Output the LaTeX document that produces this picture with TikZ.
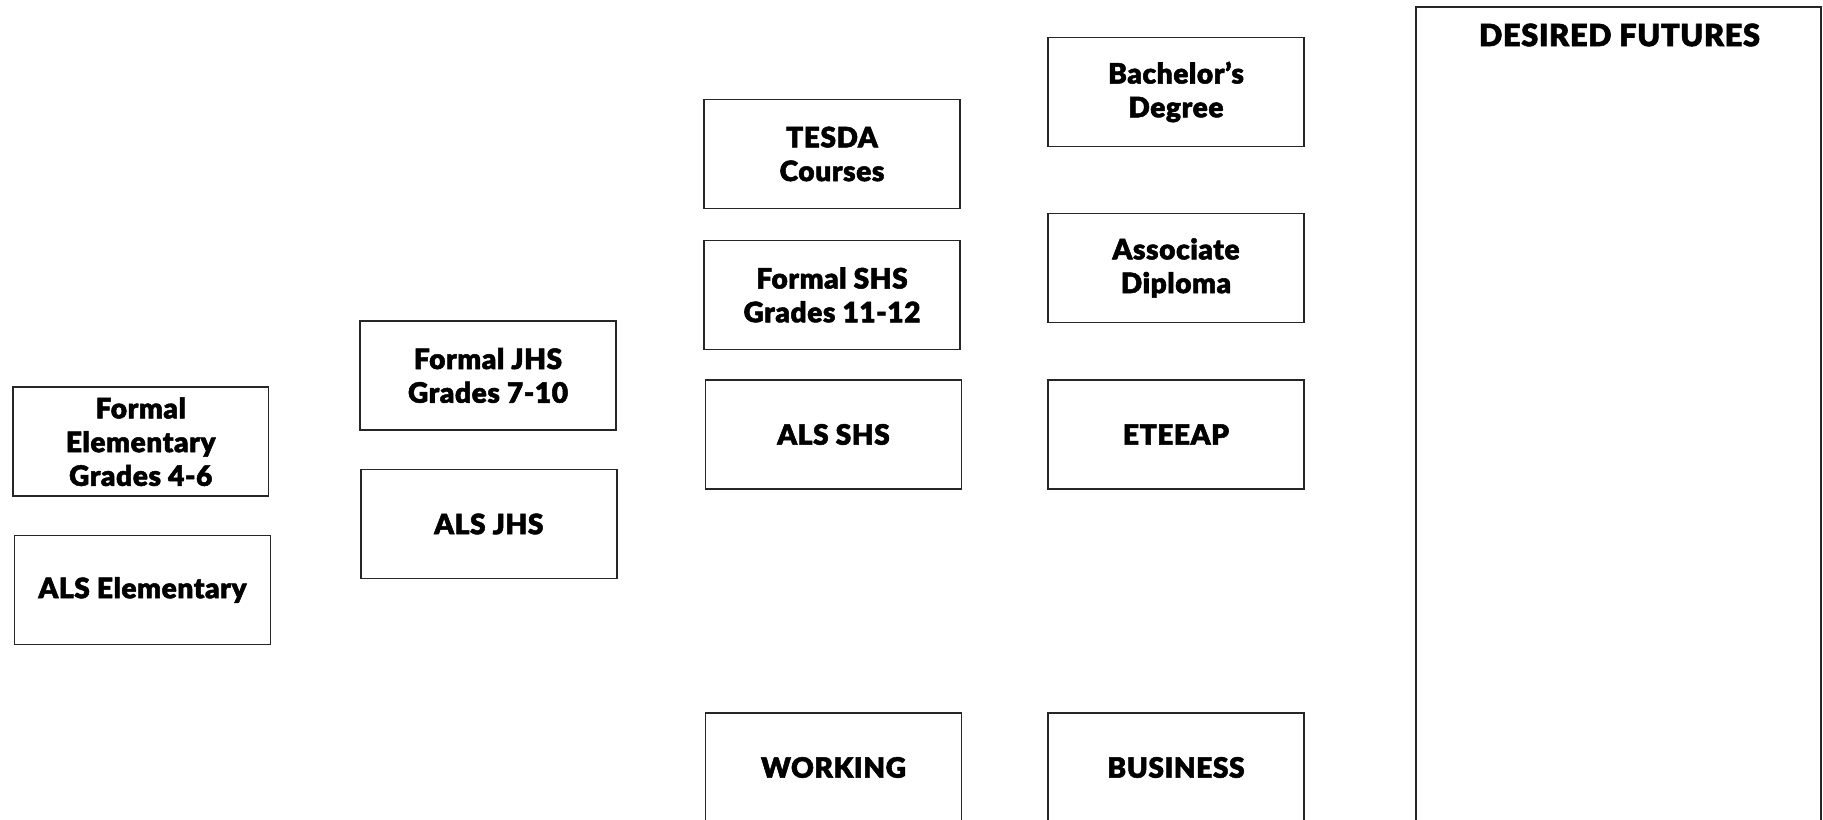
\documentclass[tikz,border=0pt]{standalone}
\usepackage{fontspec}
\setmainfont{Lato}[BoldFont={Lato Black}, BoldFeatures={FakeBold=1.8, LetterSpace=2}]
\usetikzlibrary{positioning}

\begin{document}
\begin{tikzpicture}[x=0.02cm, y=-0.02cm,
    box/.style={rectangle, draw=black!85, line width=0.9pt, minimum width=5.12cm, minimum height=2.18cm,
                align=center, font=\fontsize{16}{19.2}\selectfont\bfseries},
    title/.style={font=\fontsize{17.5}{20}\selectfont\bfseries}]
    \useasboundingbox (0,0) rectangle (1823,820);
    % first column
    \node[box] (felem) at (140.7, 441.7) {Formal\\Elementary\\Grades 4-6};
    \node[box] (alselem) at (142.5, 590) {ALS Elementary};
    % second column
    \node[box] (fjhs) at (488, 375.5) {Formal JHS\\Grades 7-10};
    \node[box] (alsjhs) at (488.8, 524) {ALS JHS};
    % third column
    \node[box] (tesda) at (832, 154) {TESDA\\Courses};
    \node[box] (fshs) at (832, 295) {Formal SHS\\Grades 11-12};
    \node[box] (alsshs) at (833.5, 434.5) {ALS SHS};
    \node[box] (working) at (833.5, 767.5) {WORKING};
    % fourth column
    \node[box] (bach) at (1176, 92) {Bachelor’s\\Degree};
    \node[box] (assoc) at (1176, 268) {Associate\\Diploma};
    \node[box] (eteeap) at (1176, 434.5) {ETEEAP};
    \node[box] (business) at (1176, 767.5) {BUSINESS};
    % desired futures panel
    \draw[draw=black!85, line width=0.9pt] (1416, 7) rectangle (1821, 840);
    \node[title] (futures) at (1619.5, 35) {DESIRED FUTURES};
\end{tikzpicture}
\end{document}
